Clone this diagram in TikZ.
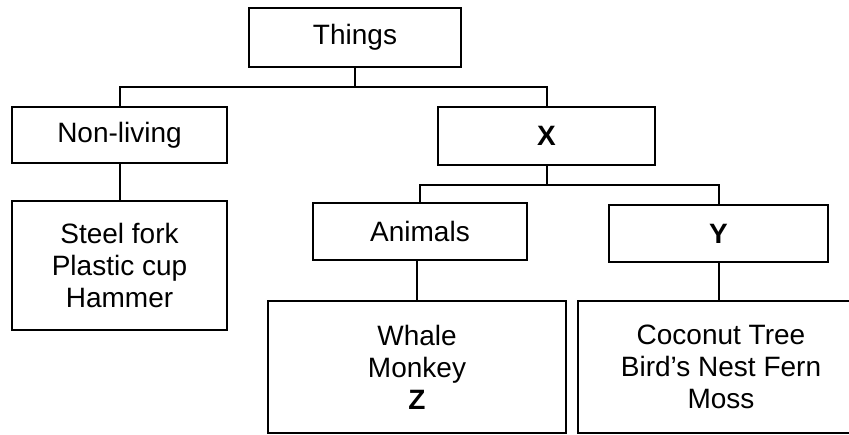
\documentclass[tikz,border=0pt]{standalone}
\usepackage{fontspec}
\setmainfont{Liberation Sans}
\begin{document}
\begin{tikzpicture}[x=1pt,y=-1pt,
  box/.style={draw=black,line width=2pt,rectangle,inner sep=0pt,align=center,
    font=\fontsize{28}{32}\selectfont},
  conn/.style={draw=black,line width=2pt}]
\useasboundingbox (0,0) rectangle (849,435);
\clip (0,0) rectangle (849,435);
\node[box,minimum width=212pt,minimum height=59pt] (things) at (355,37.5) {Things};
\node[box,minimum width=215pt,minimum height=56pt] (nonliving) at (119.5,135) {Non-living};
\node[box,minimum width=217pt,minimum height=58pt] (xbox) at (546.5,136) {\textbf{X}};
\node[box,minimum width=215pt,minimum height=129pt] (steel) at (119.5,265.5) {Steel fork\\Plastic cup\\Hammer};
\node[box,minimum width=214pt,minimum height=57pt] (animals) at (420,231.5) {Animals};
\node[box,minimum width=219pt,minimum height=57pt] (ybox) at (718.5,233.5) {\textbf{Y}};
\node[box,minimum width=298pt,minimum height=132pt] (whale) at (417,367) {Whale\\Monkey\\\textbf{Z}};
\node[box,minimum width=286pt,minimum height=132pt] (coconut) at (721,367) {Coconut Tree\\Bird’s Nest Fern\\Moss};
\coordinate (j1) at (355,87);
\coordinate (j2) at (546.5,185);
\draw[conn] (things.south) -- (j1);
\draw[conn] (nonliving.north) |- (j1) -| (xbox.north);
\draw[conn] (nonliving.south) -- (steel.north);
\draw[conn] (xbox.south) -- (j2);
\draw[conn] (animals.north) |- (j2) -| (ybox.north);
\draw[conn] (whale.north) -- (whale.north |- animals.south);
\draw[conn] (ybox.south) -- (ybox.south |- coconut.north);
\end{tikzpicture}
\end{document}
